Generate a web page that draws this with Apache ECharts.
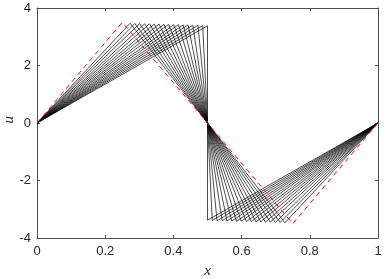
<!DOCTYPE html>
<html>
<head>
<meta charset="utf-8">
<script src="https://cdn.jsdelivr.net/npm/echarts@6/dist/echarts.min.js"></script>
<style>html,body{margin:0;padding:0;background:#fff}#c{width:386px;height:279px}</style>
</head>
<body>
<div id="c"></div>
<script>
// Initial profile (red dashed)
const initX = [0, 0.25, 0.75, 1];
const initU = [0, 3.5, -3.5, 0];
// Evolved profiles (black): peak position and height of each curve (antisymmetric about x=0.5)
const peakX = [0.273, 0.287, 0.301, 0.316, 0.330, 0.344, 0.358, 0.372, 0.386, 0.401, 0.415, 0.429, 0.443, 0.457, 0.472, 0.486, 0.500];
const peakU = [3.47, 3.46, 3.46, 3.45, 3.45, 3.44, 3.44, 3.43, 3.43, 3.42, 3.42, 3.41, 3.41, 3.40, 3.40, 3.39, 3.38];
const xTicks = [0, 0.2, 0.4, 0.6, 0.8, 1];
const yTicks = [-4, -2, 0, 2, 4];

const chart = echarts.init(document.getElementById('c'), null, {renderer: 'canvas'});
const axisCol = '#4d4d4d';
const labelFont = {color: '#262626', fontFamily: 'Liberation Sans', fontSize: 13};

const series = [];
peakX.forEach((xp, i) => {
  const h = peakU[i];
  series.push({
    type: 'line', xAxisIndex: 0, yAxisIndex: 0, symbol: 'none', silent: true,
    lineStyle: {color: '#000', width: 0.7},
    data: [[0, 0], [xp, h], [1 - xp, -h], [1, 0]]
  });
});
series.push({
  type: 'line', xAxisIndex: 0, yAxisIndex: 0, symbol: 'none', silent: true, z: 5,
  lineStyle: {color: '#ff0000', width: 1, type: [5, 4]},
  data: initX.map((x, i) => [x, initU[i]])
});

const commonLine = {show: true, onZero: false, lineStyle: {color: axisCol, width: 1}};
const commonTick = {show: true, inside: true, length: 3, lineStyle: {color: axisCol}};

chart.setOption({
  animation: false,
  grid: {left: 37, right: 8, top: 8, bottom: 41, containLabel: false, outerBoundsMode: 'none'},
  graphic: [{
    type: 'text', left: 2, top: 116, rotation: Math.PI / 2, silent: true,
    style: {text: 'u', fontFamily: 'Liberation Serif', fontStyle: 'italic', fontSize: 15, fill: '#262626'}
  }],
  xAxis: [{
    type: 'value', min: xTicks[0], max: xTicks[xTicks.length - 1], interval: 0.2,
    position: 'bottom',
    name: 'x', nameLocation: 'middle', nameGap: 26,
    nameTextStyle: {fontFamily: 'Liberation Serif', fontStyle: 'italic', fontSize: 15, color: '#262626'},
    axisLine: commonLine, axisTick: commonTick,
    axisLabel: Object.assign({margin: 7, formatter: v => String(+v.toFixed(1))}, labelFont),
    splitLine: {show: false}
  }, {
    type: 'value', min: 0, max: 1, interval: 0.2, position: 'top',
    axisLine: commonLine, axisTick: commonTick,
    axisLabel: {show: false}, splitLine: {show: false}
  }],
  yAxis: [{
    type: 'value', min: yTicks[0], max: yTicks[yTicks.length - 1], interval: 2,
    position: 'left',
    axisLine: commonLine, axisTick: commonTick,
    axisLabel: Object.assign({margin: 6}, labelFont),
    splitLine: {show: false}
  }, {
    type: 'value', min: -4, max: 4, interval: 2, position: 'right',
    axisLine: commonLine, axisTick: commonTick,
    axisLabel: {show: false}, splitLine: {show: false}
  }],
  series: series
});
</script>
</body>
</html>
